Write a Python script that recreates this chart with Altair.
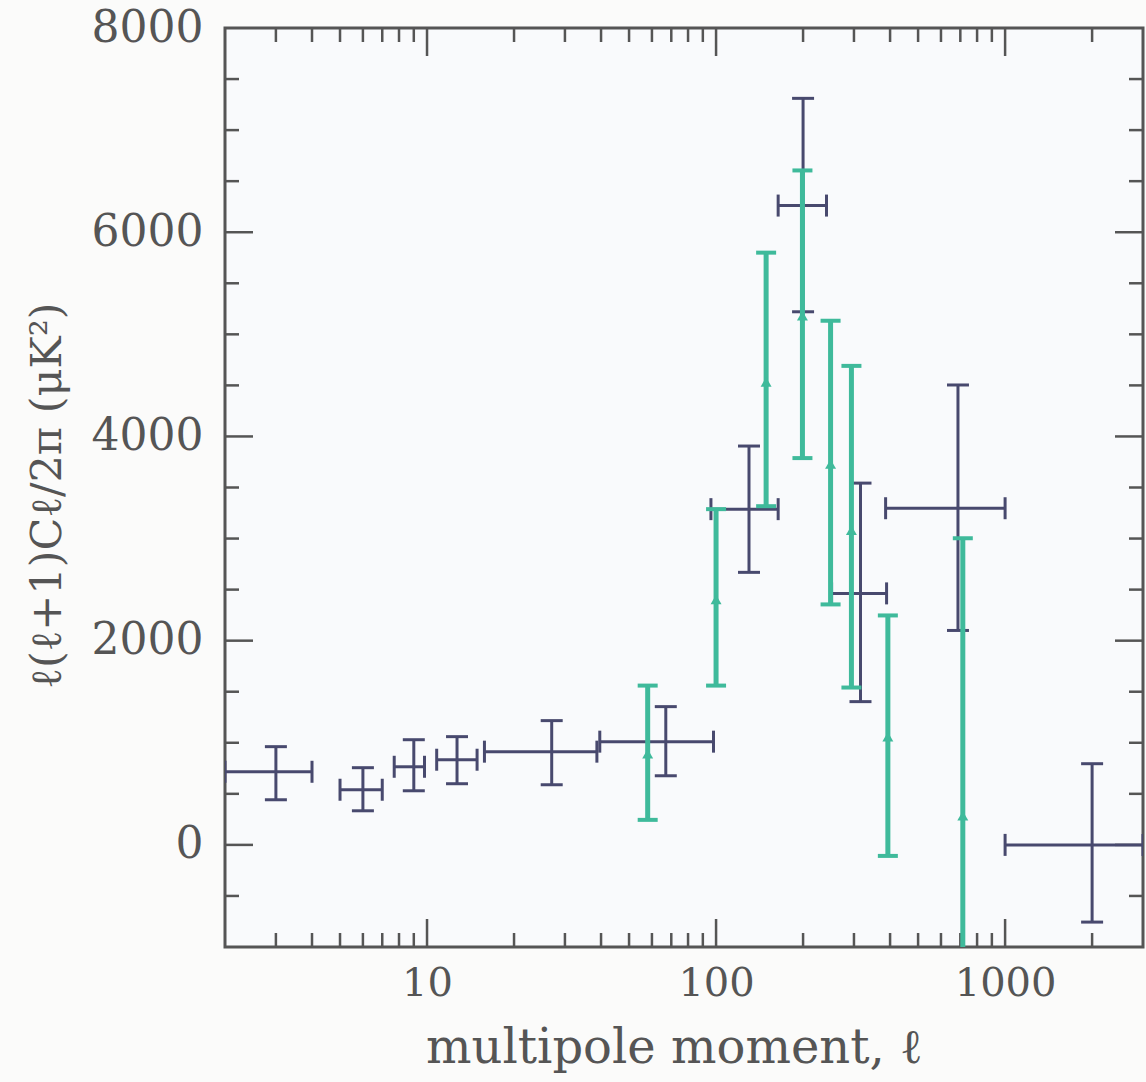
import altair as alt
import pandas as pd

# ---- data ----
navy_l = [3, 6, 9, 12.7, 27, 67, 130, 200, 316, 687, 2000]
navy_v = [716, 540, 765, 834, 913, 1011, 3288, 6261, 2463, 3297, 0]
navy_lo = [442, 334, 530, 599, 589, 677, 2669, 5221, 1403, 2100, -756]
navy_hi = [962, 756, 1030, 1060, 1217, 1354, 3906, 7311, 3543, 4504, 795]
navy_l_lo = [2, 5, 7.7, 10.8, 15.8, 39.6, 96, 164, 251, 386, 1000]
navy_l_hi = [4, 7, 9.8, 14.9, 38.7, 98, 164, 241, 389, 1000, 3000]

teal_l = [58, 100, 149, 199, 249, 294, 393, 714]
teal_v = [893, 2404, 4534, 5181, 3729, 3081, 1060, 285]
teal_hi = [1560, 3288, 5800, 6605, 5133, 4691, 2247, 3003]
teal_lo = [245, 1560, 3317, 3788, 2355, 1541, -108, -1500]

x_major = [10, 100, 1000]
x_minor = [3, 4, 5, 6, 7, 8, 9, 20, 30, 40, 50, 60, 70, 80, 90,
           200, 300, 400, 500, 600, 700, 800, 900, 2000]
y_major = [0, 2000, 4000, 6000]
y_minor = [-500, 500, 1000, 1500, 2500, 3000, 3500, 4500, 5000, 5500, 6500, 7000, 7500]
y_labels = [0, 2000, 4000, 6000, 8000]

W, H = 918, 919
NAVY = "#48496e"
TEAL = "#3fba9b"
AX = "#555555"
FONT = "DejaVu Serif"

navy = pd.DataFrame(dict(l=navy_l, v=navy_v, lo=navy_lo, hi=navy_hi, llo=navy_l_lo, lhi=navy_l_hi))
teal = pd.DataFrame(dict(l=teal_l, v=teal_v, lo=teal_lo, hi=teal_hi))

xs = alt.Scale(type="log", domain=[2, 3000], nice=False)
ys = alt.Scale(domain=[-1000, 8000], nice=False)

x_axis = alt.Axis(values=x_major, format="d", ticks=False, domain=False, grid=False,
                  labelFont=FONT, labelFontSize=40, labelColor=AX, labelPadding=16,
                  labelFlush=False, title="multipole moment, ℓ", titleFont=FONT,
                  titleFontSize=48, titleFontWeight="normal", titleColor=AX,
                  titleX=449, titleY=101, titleAlign="center", titleBaseline="middle")
y_axis = alt.Axis(values=y_labels, format="d", ticks=False, domain=False, grid=False,
                  labelFont=FONT, labelFontSize=44, labelColor=AX, labelPadding=22,
                  labelFlush=False, title="ℓ(ℓ+1)Cℓ/2π (μK²)", titleFont=FONT,
                  titleFontSize=43, titleFontWeight="normal", titleColor=AX,
                  titleAngle=270, titleX=-178, titleY=467, titleAlign="center",
                  titleBaseline="middle")


def X(f):
    return alt.X(f, type="quantitative", scale=xs, axis=x_axis)


def Y(f):
    return alt.Y(f, type="quantitative", scale=ys, axis=y_axis)


base_n = alt.Chart(navy)
base_t = alt.Chart(teal)

# navy (with l-range bars)
n_v = base_n.mark_rule(color=NAVY, strokeWidth=3, clip=True).encode(
    x=X("l"), y=Y("lo"), y2="hi:Q")
n_h = base_n.mark_rule(color=NAVY, strokeWidth=3, clip=True).encode(
    x=X("llo"), x2="lhi:Q", y=Y("v"))


def tick(base, xf, yf, color, th, size, orient):
    return base.mark_tick(color=color, thickness=th, size=size, orient=orient,
                          opacity=1, clip=True).encode(x=X(xf), y=Y(yf))


n_caps = [tick(base_n, "l", "hi", NAVY, 3, 22, "horizontal"),
          tick(base_n, "l", "lo", NAVY, 3, 22, "horizontal"),
          tick(base_n, "llo", "v", NAVY, 3, 22, "vertical"),
          tick(base_n, "lhi", "v", NAVY, 3, 22, "vertical")]

# teal
t_v = base_t.mark_rule(color=TEAL, strokeWidth=5, clip=True).encode(
    x=X("l"), y=Y("lo"), y2="hi:Q")
t_caps = [tick(base_t, "l", "hi", TEAL, 4, 20, "horizontal"),
          tick(base_t, "l", "lo", TEAL, 4, 20, "horizontal")]
t_pt = base_t.mark_point(shape="triangle-up", filled=True, color=TEAL, size=120, opacity=1).encode(
    x=X("l"), y=Y("v"))


# inward frame ticks
def yticks(vals, length):
    d = alt.Chart(pd.DataFrame({"v": vals}))
    left = d.mark_rule(color=AX, strokeWidth=2.5).encode(
        y=Y("v"), x=alt.value(0), x2=alt.value(length))
    right = d.mark_rule(color=AX, strokeWidth=2.5).encode(
        y=Y("v"), x=alt.value(W - length), x2=alt.value(W))
    return [left, right]


def xticks(vals, length):
    d = alt.Chart(pd.DataFrame({"l": vals}))
    bot = d.mark_rule(color=AX, strokeWidth=2.5).encode(
        x=X("l"), y=alt.value(H), y2=alt.value(H - length))
    top = d.mark_rule(color=AX, strokeWidth=2.5).encode(
        x=X("l"), y=alt.value(0), y2=alt.value(length))
    return [bot, top]


layers = ([n_v] + yticks(y_minor, 14) + yticks(y_major, 28) + xticks(x_minor, 14)
          + xticks(x_major, 28) + [n_h] + n_caps + [t_v] + t_caps + [t_pt])

chart = alt.layer(*layers).properties(
    width=W, height=H,
    autosize=alt.AutoSizeParams(type="none"),
    padding={"left": 225, "top": 28, "right": 3, "bottom": 135},
    background="#fbfbfa",
).configure_view(stroke=AX, strokeWidth=3, fill="#f9fafc")

chart.save("out.html", embed_options={"renderer": "svg", "actions": False})
